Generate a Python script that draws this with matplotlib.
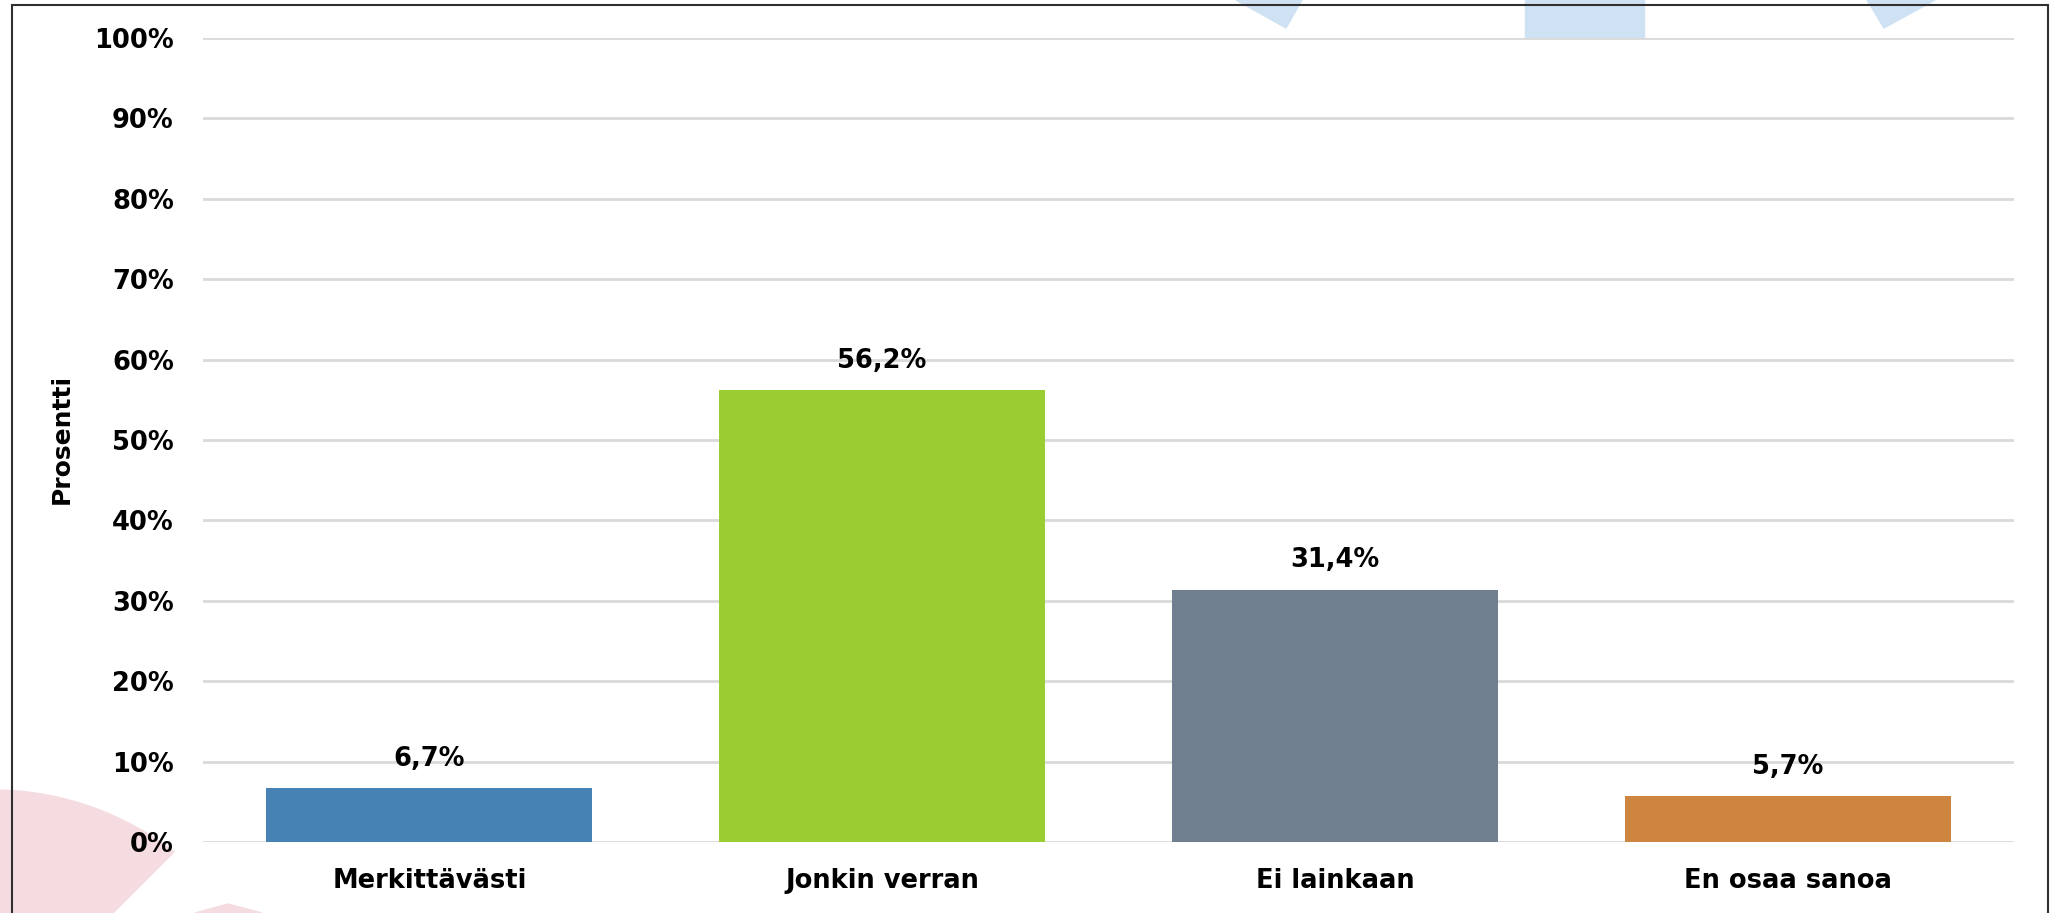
import numpy as np
import matplotlib
matplotlib.use("Agg")
import matplotlib.pyplot as plt
from matplotlib.patches import Polygon, Rectangle

categories = ["Merkittävästi", "Jonkin verran", "Ei lainkaan", "En osaa sanoa"]
values = [6.7, 56.2, 31.4, 5.7]
value_labels = ["6,7%", "56,2%", "31,4%", "5,7%"]
bar_colors = ["#4682B4", "#9ACD32", "#708090", "#CD853F"]
yticks = [0, 10, 20, 30, 40, 50, 60, 70, 80, 90, 100]
ytick_labels = [f"{t}%" for t in yticks]
ylabel = "Prosentti"

W, H = 2055, 913
fig = plt.figure(figsize=(W / 100, H / 100), dpi=100)
fig.patch.set_facecolor("white")

def px(points):
    return [(x / W, 1 - y / H) for x, y in points]

# decorative background shapes (slide art)
blue = "#CFE2F3"
pink = "#F5DCE1"
fig.patches.append(Polygon(px([(1236, 0), (1302, 0), (1286, 28)]), closed=True,
                           transform=fig.transFigure, color=blue, zorder=0))
fig.patches.append(Polygon(px([(1867, 0), (1935, 0), (1884, 28)]), closed=True,
                           transform=fig.transFigure, color=blue, zorder=0))
fig.patches.append(Polygon(px([(1525, 0), (1644, 0), (1644, 38), (1525, 38)]), closed=True,
                           transform=fig.transFigure, color=blue, zorder=0))
cx, cy, r = -7, 1085, 295
a0 = np.arctan2(790 - cy, 0 - cx)
a1 = np.arctan2(852 - cy, 174 - cx)
ang = np.linspace(a0, a1, 60)
arc = [(cx + r * np.cos(a), cy + r * np.sin(a)) for a in ang]
fig.patches.append(Polygon(px([(0, 790)] + arc + [(113, 913), (0, 913)]), closed=True,
                           transform=fig.transFigure, color=pink, zorder=0))
fig.patches.append(Polygon(px([(195, 913), (228, 904), (262, 913)]), closed=True,
                           transform=fig.transFigure, color=pink, zorder=0))

# frame
fig.patches.append(Rectangle((12 / W, -0.1), (2048 - 12) / W, 1.1 - 5 / H,
                             transform=fig.transFigure, fill=False,
                             edgecolor="#303030", lw=1.5, zorder=1))

ax = fig.add_axes([203 / W, 1 - 842 / H, (2014 - 203) / W, (842 - 38) / H])
ax.set_zorder(5)
ax.patch.set_alpha(0)

x = np.arange(len(categories))
bars = ax.bar(x, values, width=0.72, color=bar_colors, zorder=3)

ax.set_xlim(-0.5, len(categories) - 0.5)
ax.set_ylim(0, 100)
ax.set_yticks(yticks)
ax.set_yticklabels(ytick_labels)
ax.set_xticks(x)
ax.set_xticklabels(categories)

font = "DejaVu Sans"
for lab in ax.get_yticklabels() + ax.get_xticklabels():
    lab.set_fontfamily(font)
    lab.set_fontweight("bold")
    lab.set_fontsize(18.5)
    lab.set_color("black")

ax.tick_params(axis="y", length=0, pad=21)
ax.tick_params(axis="x", length=0, pad=19)
for s in ax.spines.values():
    s.set_visible(False)
ax.yaxis.grid(True, color="#D9D9D9", lw=2, zorder=0)
ax.set_axisbelow(True)

for xi, v, lab in zip(x, values, value_labels):
    ax.annotate(lab, (xi, v), xytext=(0, 21), textcoords="offset points",
                ha="center", va="center", fontsize=18.5, fontweight="bold",
                family=font, color="black")

fig.text(62 / W, 1 - 439 / H, ylabel, rotation=90, ha="center", va="center",
         fontsize=18, fontweight="bold", family=font, color="black", zorder=6)

fig.savefig("out.png", dpi=100)
